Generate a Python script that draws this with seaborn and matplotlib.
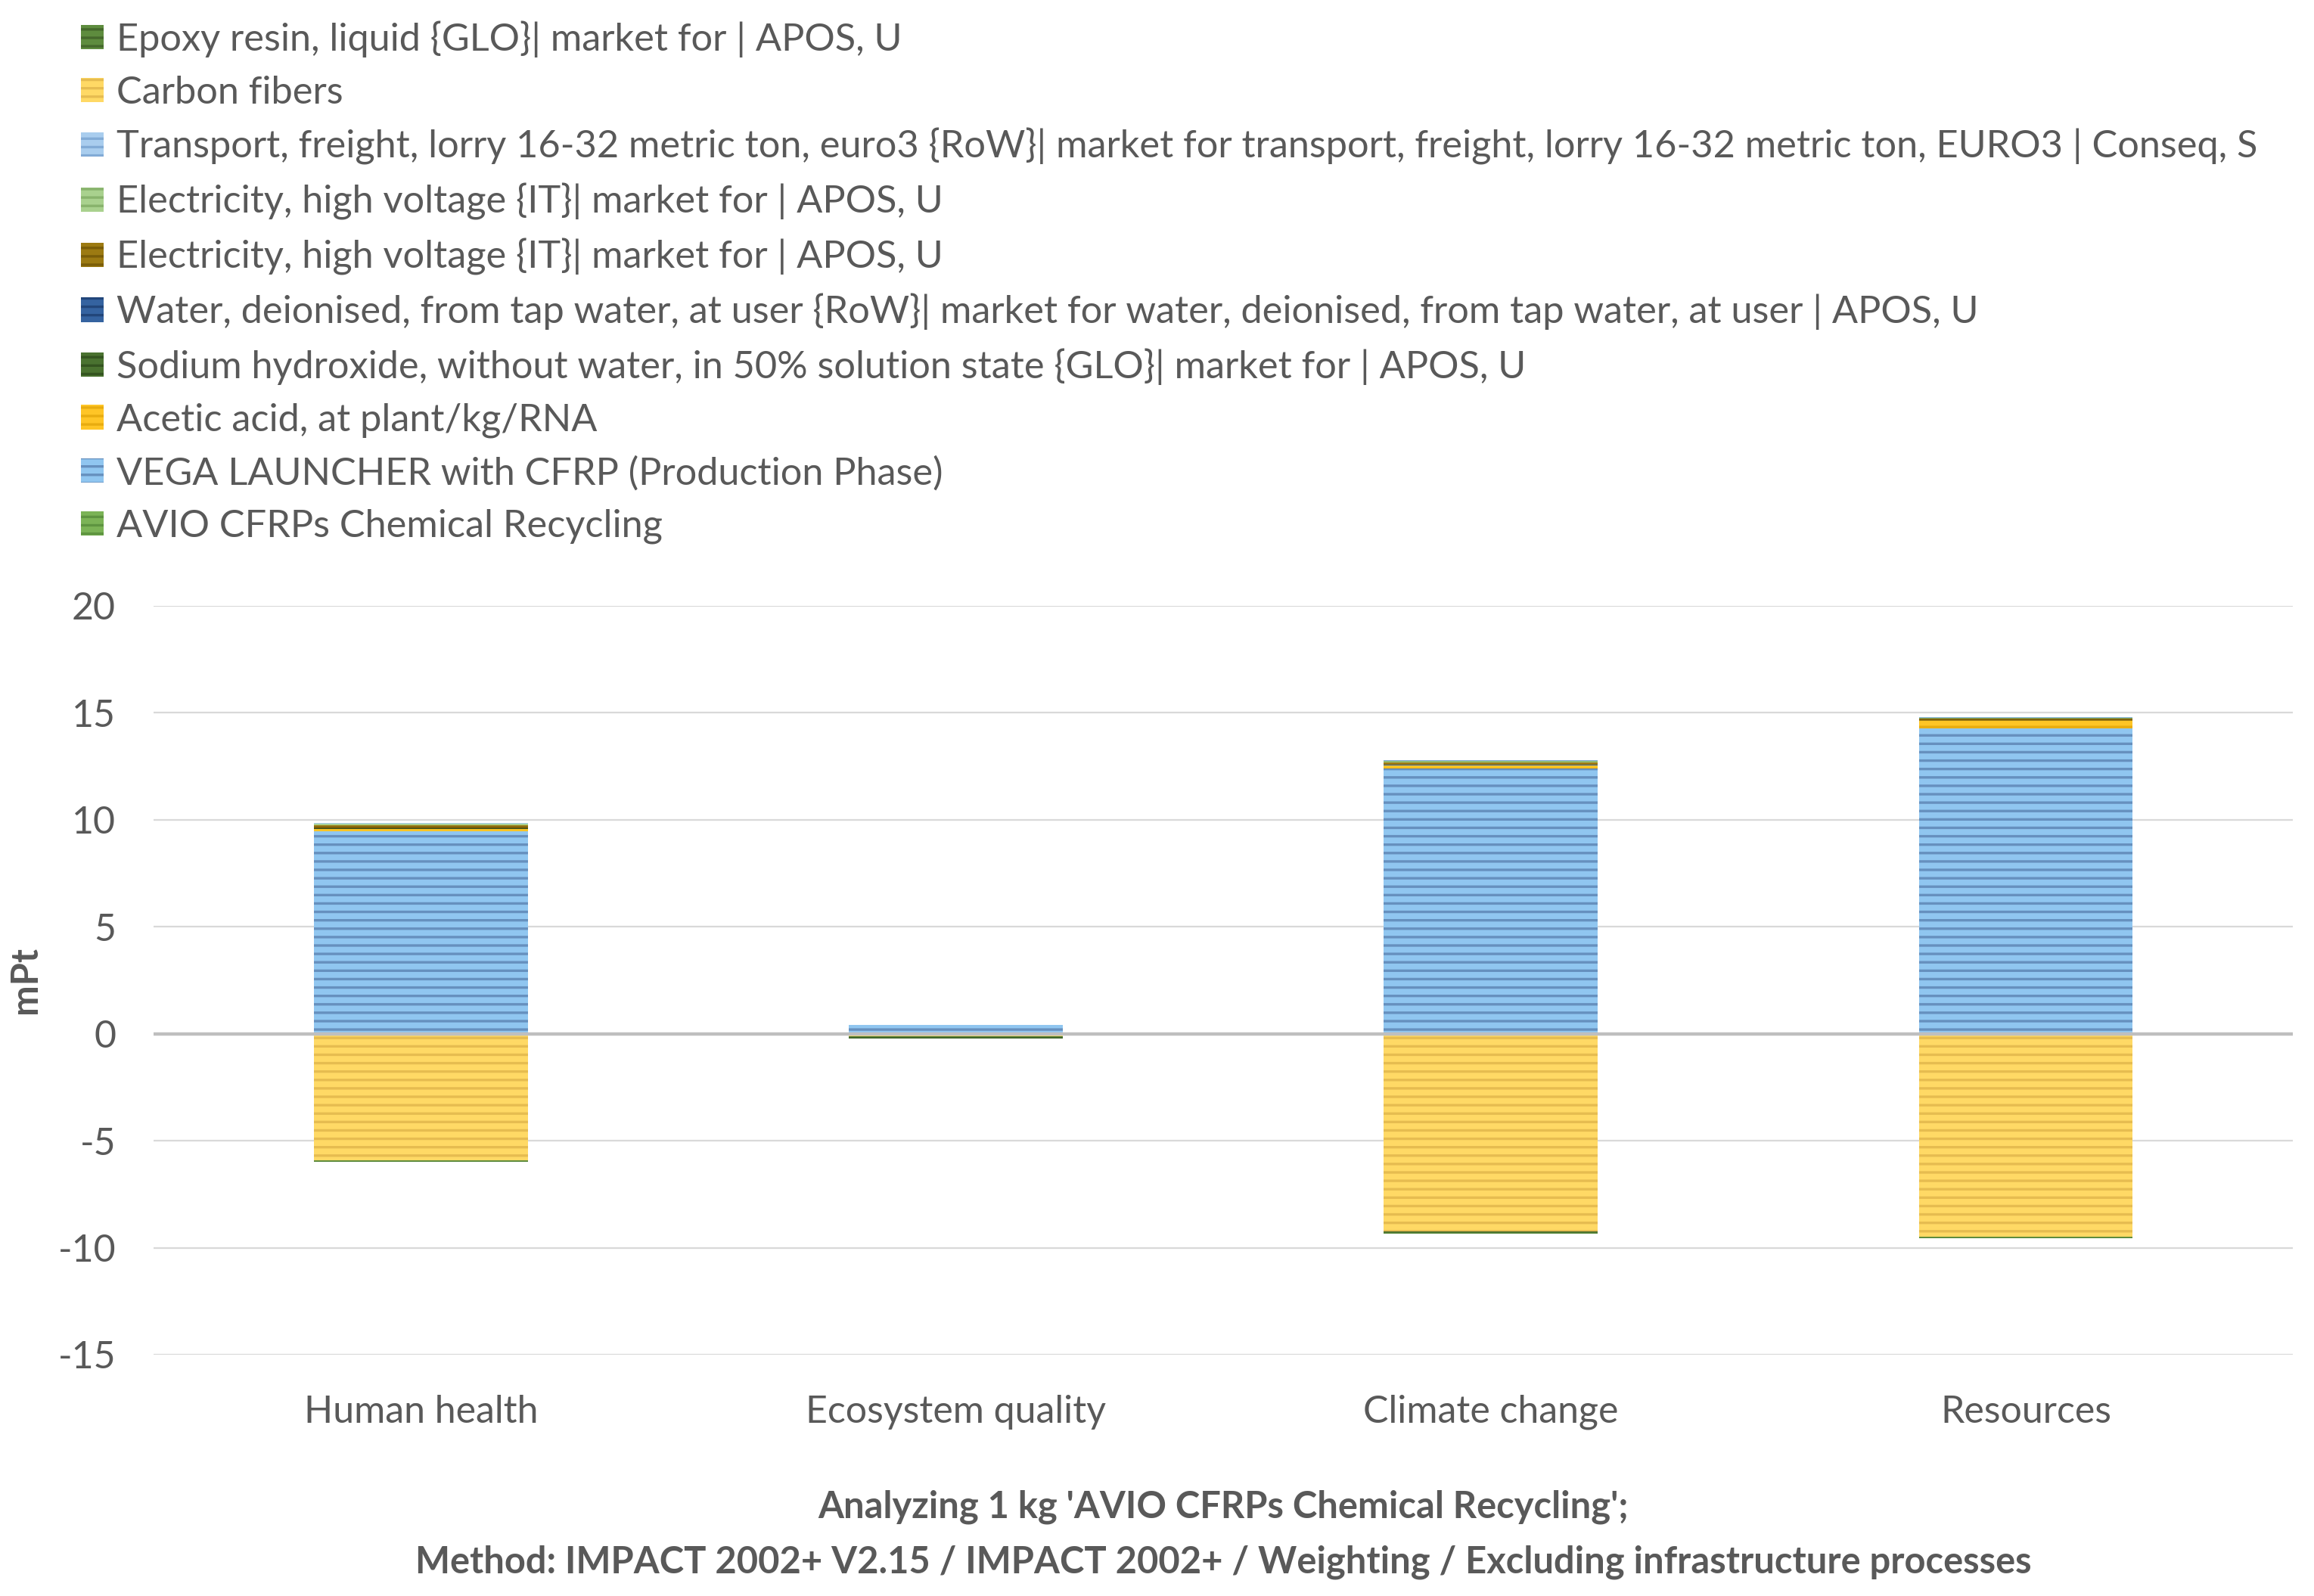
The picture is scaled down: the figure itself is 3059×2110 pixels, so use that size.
import matplotlib
matplotlib.use("Agg")
import matplotlib.pyplot as plt
from matplotlib.patches import Patch
import seaborn as sns
import pandas as pd
import numpy as np

# 데이터
categories = ["Human health", "Ecosystem quality", "Climate change", "Resources"]

legend_names = [
    "Epoxy resin, liquid {GLO}| market for | APOS, U",
    "Carbon fibers",
    "Transport, freight, lorry 16-32 metric ton, euro3 {RoW}| market for transport, freight, lorry 16-32 metric ton, EURO3 | Conseq, S",
    "Electricity, high voltage {IT}| market for | APOS, U",
    "Electricity, high voltage {IT}| market for | APOS, U",
    "Water, deionised, from tap water, at user {RoW}| market for water, deionised, from tap water, at user | APOS, U",
    "Sodium hydroxide, without water, in 50% solution state {GLO}| market for | APOS, U",
    "Acetic acid, at plant/kg/RNA",
    "VEGA LAUNCHER with CFRP (Production Phase)",
    "AVIO CFRPs Chemical Recycling",
]

# mPt, 범례 순서
epoxy = [-0.10, -0.10, -0.09, -0.08]
carbon_fibers = [-5.90, -0.12, -9.25, -9.48]
transport = [0.02, 0.00, 0.02, 0.03]
elec_green = [0.06, 0.00, 0.08, 0.06]
elec_brown = [0.15, 0.00, 0.12, 0.08]
water = [0.01, 0.00, 0.01, 0.01]
sodium_hydroxide = [0.02, 0.00, 0.02, 0.02]
acetic_acid = [0.12, 0.00, 0.12, 0.35]
vega = [9.46, 0.42, 12.41, 14.26]
avio = [0.00, 0.00, 0.00, 0.00]

series_values = [epoxy, carbon_fibers, transport, elec_green, elec_brown,
                 water, sodium_hydroxide, acetic_acid, vega, avio]

# (면 색, 줄무늬 색)
styles = [
    ("#5E8C3E", "#45692C"),
    ("#FFD965", "#E6BC50"),
    ("#A9CDEE", "#82ABD6"),
    ("#A9D18E", "#88B36C"),
    ("#9C7A12", "#7A5D08"),
    ("#3563A0", "#22467A"),
    ("#4A7230", "#345420"),
    ("#FFC526", "#E8AC10"),
    ("#90C6F0", "#6690BE"),
    ("#7BB356", "#5E9440"),
]

text_color = "#595959"

sns.set_style("white")
plt.rcParams['font.family'] = ['Lato', 'DejaVu Sans']
plt.rcParams['axes.unicode_minus'] = False
plt.rcParams['hatch.linewidth'] = 1.2

fig = plt.figure(figsize=(15.295, 10.55), dpi=200)
ax = fig.add_axes([0.0664, 0.1512, 0.9246, 0.4692])

# 엑셀 누적 순서: 범례의 역순
stack_order = list(range(len(series_values)))[::-1]
pos_cum = np.zeros(len(categories))
neg_cum = np.zeros(len(categories))

for i in stack_order:
    vals = np.array(series_values[i], dtype=float)
    bottoms = np.where(vals >= 0, pos_cum, neg_cum)
    df = pd.DataFrame({"category": categories, "value": vals})
    n_before = len(ax.patches)
    sns.barplot(data=df, x="category", y="value", order=categories,
                color=styles[i][0], saturation=1, width=0.4,
                errorbar=None, bottom=bottoms, ax=ax, zorder=2)
    for p in ax.patches[n_before:]:
        p.set_facecolor(styles[i][0])
        p.set_edgecolor(styles[i][1])
        p.set_linewidth(0)
        p.set_hatch("---")
    pos_cum += np.where(vals >= 0, vals, 0)
    neg_cum += np.where(vals < 0, vals, 0)

ax.axhline(0, color="#BFBFBF", linewidth=1.6, zorder=3)

ax.set_ylim(-15, 20)
ax.set_xlim(-0.5, 3.5)
ax.set_yticks(np.arange(-15, 21, 5))
ax.yaxis.grid(True, color="#D9D9D9", linewidth=0.8, zorder=0)
ax.set_axisbelow(True)
for s in ax.spines.values():
    s.set_visible(False)
ax.tick_params(axis="both", length=0, labelsize=18, colors=text_color)
ax.tick_params(axis="y", pad=18)
ax.tick_params(axis="x", pad=19)

ax.set_ylabel("mPt", fontsize=17.5, fontweight="bold", color=text_color)
ax.yaxis.set_label_coords(-0.052, 0.5)
ax.set_xlabel("Analyzing 1 kg 'AVIO CFRPs Chemical Recycling';\n"
              "Method: IMPACT 2002+ V2.15 / IMPACT 2002+ / Weighting / Excluding infrastructure processes",
              fontsize=17.6, fontweight="bold", color=text_color, linespacing=1.75)
ax.xaxis.set_label_coords(0.5, -0.18)

handles = [Patch(facecolor=f, edgecolor=e, linewidth=0, hatch="---") for f, e in styles]
fig.legend(handles, legend_names, loc="upper left", bbox_to_anchor=(0.035, 0.987),
           frameon=False, fontsize=18.2, labelcolor=text_color,
           handlelength=0.6, handleheight=0.6, handletextpad=0.32,
           labelspacing=0.47, borderpad=0, borderaxespad=0)

plt.savefig("out.png", dpi=200)
